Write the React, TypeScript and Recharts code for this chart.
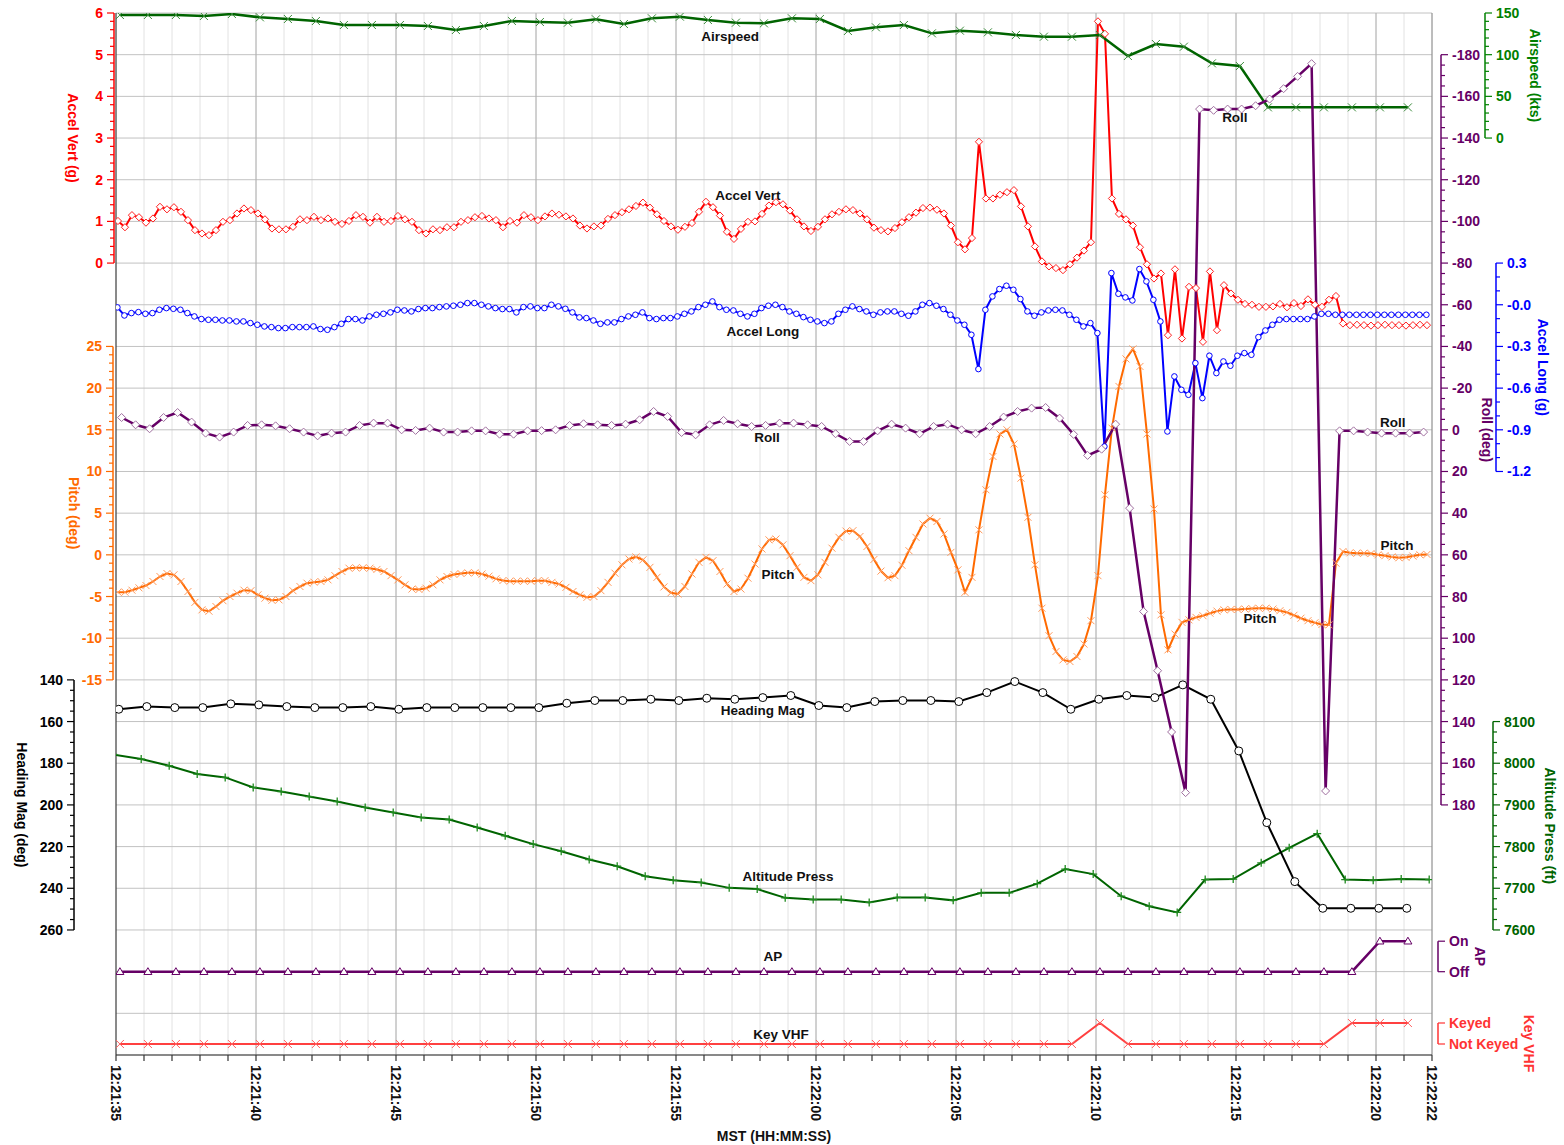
import React from 'react';
import {
  CartesianGrid,
  ComposedChart,
  Line,
  ReferenceDot,
  XAxis,
  YAxis,
} from 'recharts';

// ---- recorded values (seconds after 12:21:35) ----

// 1 Hz samples, first at t = 0.1
const HEADING_MAG = [
  154.1, 152.8, 153.3, 153.3, 151.5, 152.0, 152.8, 153.3, 153.3, 152.8,
  154.1, 153.3, 153.3, 153.3, 153.3, 153.3, 151.2, 149.9, 149.9, 149.3,
  149.9, 148.8, 149.3, 148.5, 147.5, 152.3, 153.3, 150.4, 149.9, 149.9,
  150.4, 146.1, 140.8, 146.1, 154.1, 149.3, 147.5, 148.5, 142.4, 149.3,
  174.1, 208.5, 236.8, 249.6, 249.6, 249.6, 249.6,
];

// 1 Hz samples, first at t = 0.14
const AIRSPEED = [
  147.6, 147.6, 147.6, 146.4, 148.8, 144.8, 142.8, 140.4, 135.6, 135.6,
  135.6, 134.4, 129.6, 134.4, 140.4, 139.2, 138.4, 142.4, 136.8, 143.6,
  145.6, 141.6, 138.4, 137.6, 143.6, 142.8, 128.4, 132.8, 135.6, 125.6,
  128.8, 126.8, 123.6, 121.6, 121.6, 123.6, 98.4, 112.8, 109.6, 89.6,
  86.4, 36.8, 36.8, 36.8, 36.8, 36.8, 36.8,
];

// 1 Hz discretes, first at t = 0.14 (0 = Off / Not Keyed, 1 = On / Keyed)
const AP_STATE = [
  0, 0, 0, 0, 0, 0, 0, 0, 0, 0, 0, 0, 0, 0, 0, 0, 0, 0, 0, 0,
  0, 0, 0, 0, 0, 0, 0, 0, 0, 0, 0, 0, 0, 0, 0, 0, 0, 0, 0, 0,
  0, 0, 0, 0, 0, 1, 1,
];
const KEY_VHF = [
  0, 0, 0, 0, 0, 0, 0, 0, 0, 0, 0, 0, 0, 0, 0, 0, 0, 0, 0, 0,
  0, 0, 0, 0, 0, 0, 0, 0, 0, 0, 0, 0, 0, 0, 0, 1, 0, 0, 0, 0,
  0, 0, 0, 0, 1, 1, 1,
];

// 1 Hz samples, first at t = -0.1
const ALTITUDE_PRESS = [
  8021, 8010, 7994, 7974, 7966, 7942, 7932, 7920, 7908, 7894,
  7882, 7870, 7865, 7846, 7826, 7806, 7789, 7769, 7753, 7729,
  7719, 7714, 7701, 7698, 7677, 7673, 7673, 7666, 7678, 7678,
  7671, 7689, 7689, 7711, 7746, 7734, 7681, 7657, 7642, 7721,
  7722, 7761, 7797, 7831, 7721, 7719, 7722, 7721,
];

// 2 Hz samples, first at t = 0.2
const ROLL = [
  -5.9, -2.4, -0.5, -5.9, -8.3, -3.7, 1.6, 3.5, 1.1, -2.1,
  -2.4, -1.9, -0.5, 1.1, 2.9, 1.6, 1.1, -2.1, -3.2, -3.2,
  0, 0.3, -0.8, 1.1, 1.1, 0.5, 0.5, 2.1, 2.1, 0.5,
  0.4, 0, -2.1, -2.9, -2.4, -2.1, -2.7, -4.8, -8.8, -6.4,
  1.3, 2.4, -2.4, -4.5, -2.9, -1.6, -2.1, -3.2, -3.2, -2.4,
  -1.6, 1.9, 5.6, 5.6, 0.5, -2.7, -0.8, 1.9, -1.6, -2.7,
  0, 1.9, -1.6, -6.1, -8.8, -10.4, -10.7, -5.6, 2.2, 12.3,
  9.3, -2.7, 37.6, 87.2, 115.6, 145, 174.1, -153.9, -153.3, -153.9,
  -153.9, -155.5, -158.7, -163.7, -169.6, -175.7, 173.3, 0.5, 0.5, 1.1,
  1.6, 1.6, 1.6, 1.1,
];

// 4 Hz samples, first at t = 0.07
const ACCEL_VERT = [
  1.01, 0.86, 1.15, 1.10, 0.97, 1.07, 1.35, 1.29, 1.34, 1.23,
  1.03, 0.79, 0.71, 0.67, 0.79, 0.99, 1.03, 1.19, 1.31, 1.27,
  1.19, 1.05, 0.83, 0.81, 0.81, 0.87, 1.05, 1.03, 1.11, 1.03,
  1.07, 0.99, 0.94, 1.01, 1.15, 1.11, 0.97, 1.11, 0.99, 1.01,
  1.13, 1.05, 0.99, 0.79, 0.71, 0.81, 0.79, 0.86, 0.86, 0.99,
  1.03, 1.10, 1.13, 1.07, 1.03, 0.86, 1.01, 0.97, 1.15, 1.10,
  1.03, 1.12, 1.19, 1.16, 1.12, 1.07, 0.90, 0.83, 0.88, 0.90,
  1.06, 1.15, 1.22, 1.29, 1.37, 1.45, 1.33, 1.17, 1.01, 0.88,
  0.80, 0.87, 0.96, 1.23, 1.47, 1.34, 1.14, 0.75, 0.58, 0.82,
  0.99, 1.00, 1.18, 1.38, 1.46, 1.41, 1.26, 1.05, 0.88, 0.77,
  0.87, 1.05, 1.17, 1.23, 1.29, 1.27, 1.19, 1.05, 0.85, 0.79,
  0.76, 0.84, 0.98, 1.10, 1.21, 1.32, 1.33, 1.28, 1.19, 0.90,
  0.50, 0.33, 0.60, 2.91, 1.55, 1.55, 1.64, 1.70, 1.75, 1.36,
  0.88, 0.40, 0.04, -0.08, -0.12, -0.17, -0.03, 0.13, 0.30, 0.50,
  5.80, 5.50, 1.55, 1.18, 1.05, 0.90, 0.38, -0.03, -0.37, -0.25,
  -1.73, -0.15, -1.81, -0.57, -0.60, -1.89, -0.20, -1.61, -0.53, -0.73,
  -0.88, -0.98, -1.00, -1.05, -1.05, -1.04, -0.98, -1.06, -0.96, -1.03,
  -0.87, -1.00, -1.05, -0.88, -0.79, -1.45, -1.49, -1.48, -1.49, -1.50,
  -1.49, -1.48, -1.49, -1.49, -1.50, -1.49, -1.48, -1.49,
];

// 4 Hz samples, first at t = 0.05
const ACCEL_LONG = [
  -0.019, -0.077, -0.06, -0.053, -0.065, -0.06, -0.036, -0.024, -0.029, -0.036,
  -0.06, -0.084, -0.103, -0.108, -0.108, -0.113, -0.113, -0.12, -0.12, -0.132,
  -0.144, -0.156, -0.161, -0.168, -0.168, -0.161, -0.161, -0.161, -0.156, -0.175,
  -0.18, -0.161, -0.137, -0.103, -0.103, -0.113, -0.084, -0.072, -0.065, -0.055,
  -0.036, -0.041, -0.048, -0.031, -0.024, -0.024, -0.017, -0.012, -0.007, 0,
  0.012, 0.012, 0, -0.012, -0.024, -0.031, -0.031, -0.055, -0.017, -0.012,
  -0.024, -0.024, 0, -0.012, -0.029, -0.055, -0.091, -0.096, -0.113, -0.137,
  -0.127, -0.127, -0.103, -0.084, -0.072, -0.055, -0.096, -0.103, -0.096, -0.096,
  -0.084, -0.065, -0.048, -0.017, 0, 0.024, -0.017, -0.036, -0.041, -0.065,
  -0.084, -0.065, -0.024, -0.007, 0, -0.017, -0.048, -0.065, -0.089, -0.108,
  -0.12, -0.132, -0.12, -0.065, -0.036, -0.012, -0.031, -0.048, -0.072, -0.055,
  -0.048, -0.048, -0.065, -0.079, -0.048, 0, 0.012, -0.007, -0.031, -0.072,
  -0.113, -0.144, -0.216, -0.463, -0.036, 0.06, 0.113, 0.137, 0.108, 0.041,
  -0.048, -0.079, -0.055, -0.041, -0.036, -0.041, -0.072, -0.108, -0.156, -0.132,
  -0.204, -1.02, 0.228, 0.079, 0.053, 0.031, 0.257, 0.168, 0.036, -0.12,
  -0.912, -0.516, -0.612, -0.648, -0.42, -0.672, -0.367, -0.492, -0.408, -0.439,
  -0.367, -0.348, -0.36, -0.233, -0.185, -0.144, -0.108, -0.103, -0.103, -0.103,
  -0.103, -0.084, -0.065, -0.065, -0.072, -0.072, -0.072, -0.072, -0.072, -0.072,
  -0.072, -0.072, -0.072, -0.072, -0.072, -0.072, -0.072, -0.072,
];

// 4 Hz samples, first at t = 0.07
const PITCH = [
  -4.48, -4.48, -4.24, -3.96, -3.68, -3.2, -2.6, -2.24, -2.4, -3.2,
  -4.4, -5.7, -6.6, -6.76, -6.2, -5.5, -5.0, -4.6, -4.24, -4.3,
  -4.8, -5.2, -5.45, -5.4, -5.0, -4.3, -3.8, -3.4, -3.28, -3.2,
  -3.0, -2.5, -2.0, -1.6, -1.56, -1.56, -1.6, -1.75, -2.0, -2.5,
  -3.0, -3.6, -4.1, -4.16, -4.0, -3.6, -3.0, -2.6, -2.36, -2.24,
  -2.16, -2.16, -2.3, -2.56, -2.88, -3.08, -3.16, -3.16, -3.16, -3.16,
  -3.1, -3.1, -3.3, -3.5, -3.9, -4.4, -4.8, -5.1, -5.0, -4.3,
  -3.3, -2.2, -1.2, -0.5, -0.25, -0.6, -1.5, -2.7, -3.85, -4.55,
  -4.7, -3.8, -2.3, -0.9, -0.3, -0.7, -2.0, -3.5, -4.4, -4.1,
  -2.8, -1.1, 0.7, 1.8, 1.9, 1.2, -0.1, -1.5, -2.7, -3.1,
  -2.4, -0.9, 0.8, 2.1, 2.85, 2.9, 2.2, 1.0, -0.55, -1.95,
  -2.75, -2.5, -1.25, 0.5, 2.1, 3.7, 4.4, 4.0, 2.5, 0.3,
  -1.8, -4.5, -2.7, 3.0, 7.8, 11.8, 14.5, 15.0, 13.3, 9.2,
  4.5, -1.2, -6.4, -9.7, -11.6, -12.6, -12.8, -12.2, -10.7, -7.9,
  -2.5, 7.2, 15.2, 20.2, 23.5, 24.7, 22.6, 14.5, 5.5, -7.2,
  -11.4, -9.5, -8.1, -7.8, -7.5, -7.3, -7.0, -6.75, -6.6, -6.55,
  -6.55, -6.5, -6.45, -6.4, -6.4, -6.5, -6.7, -6.9, -7.25, -7.6,
  -7.9, -8.15, -8.35, -8.4, -1.0, 0.4, 0.24, 0.2, 0.2, 0.15,
  0.0, -0.1, -0.25, -0.35, -0.3, -0.15, 0.0, 0.05,
];

// in-plot series captions: [text, axis, seconds, value]
const SERIES_TAGS: [string, string, number, number][] = [
  ['Airspeed', 'airspeed', 21.93, 122.4],
  ['Accel Vert', 'av', 22.57, 1.63],
  ['Roll', 'roll', 39.96, -149.8],
  ['Accel Long', 'al', 23.1, -0.187],
  ['Roll', 'roll', 23.25, 3.4],
  ['Roll', 'roll', 45.6, -3.8],
  ['Pitch', 'pitch', 23.64, -2.36],
  ['Pitch', 'pitch', 40.86, -7.64],
  ['Pitch', 'pitch', 45.75, 1.12],
  ['Heading Mag', 'heading', 23.1, 154.4],
  ['Altitude Press', 'alt', 24.0, 7730],
  ['AP', 'ap', 23.46, 0.51],
  ['Key VHF', 'key', 23.75, 0.48],
];

const START_SEC = 12 * 3600 + 21 * 60 + 35;
const END_T = 47;

// ---- layout (chart pinned to the page corner, covering the whole window) ----
const W = 1564;
const H = 1145;
const MARGIN = { top: 13, right: 126, bottom: 0, left: 113 };
const X_AXIS_H = 90;
const PLOT_H = H - MARGIN.top - MARGIN.bottom - X_AXIS_H;
const FONT = '"Liberation Sans", Arial, sans-serif';

const range = (from: number, to: number, step: number) => {
  const n = Math.round((to - from) / step);
  return Array.from({ length: n + 1 }, (_, i) => +(from + i * step).toFixed(6));
};

const toPoints = (values: number[], start: number, step: number) =>
  values.map((v, i) => ({ t: +(start + i * step).toFixed(3), v }));

const fmtClock = (s: number) => {
  const total = START_SEC + s;
  const hh = Math.floor(total / 3600);
  const mm = Math.floor((total % 3600) / 60);
  const ss = total % 60;
  const p = (n: number) => String(n).padStart(2, '0');
  return `${hh}:${p(mm)}:${p(ss)}`;
};

type AxisSpec = {
  id: string;
  side: 'left' | 'right';
  dx: number;
  domain: [number, number];
  reversed?: boolean;
  ticks: number[];
  major: number;
  color: string;
  title: string;
  titleDx: number;
  titleDy?: number;
  fmt?: (v: number) => string;
};

const AXES: AxisSpec[] = [
  { id: 'av', side: 'left', dx: -2, domain: [-19, 6], ticks: range(0, 6, 0.2), major: 1,
    color: '#ff0000', title: 'Accel Vert (g)', titleDx: -41 },
  { id: 'pitch', side: 'left', dx: -1, domain: [-60, 65], ticks: range(-15, 25, 1), major: 5,
    color: '#ff6a00', title: 'Pitch (deg)', titleDx: -39 },
  { id: 'heading', side: 'left', dx: -41, domain: [-180, 320], reversed: true,
    ticks: range(140, 260, 5), major: 20, color: '#000000', title: 'Heading Mag (deg)', titleDx: -52 },
  { id: 'roll', side: 'right', dx: 4, domain: [-200, 300], reversed: true,
    ticks: range(-180, 180, 5), major: 20, color: '#660066', title: 'Roll (deg)', titleDx: 46 },
  { id: 'ap', side: 'right', dx: 3, domain: [-2.731, 31.43], ticks: [0, 1], major: 1,
    color: '#660066', title: 'AP', titleDx: 42, fmt: (v) => (v ? 'On' : 'Off') },
  { id: 'key', side: 'right', dx: 2, domain: [-0.524, 49.1], ticks: [0, 1], major: 1,
    color: '#ff3333', title: 'Key VHF', titleDx: 91, titleDy: 10,
    fmt: (v) => (v ? 'Keyed' : 'Not Keyed') },
  { id: 'airspeed', side: 'right', dx: 53, domain: [-1100, 150], ticks: range(0, 150, 10), major: 50,
    color: '#008000', title: 'Airspeed (kts)', titleDx: 50 },
  { id: 'alt', side: 'right', dx: 59, domain: [7300, 9800], ticks: range(7600, 8100, 25), major: 100,
    color: '#006400', title: 'Altitude Press (ft)', titleDx: 57 },
  { id: 'al', side: 'right', dx: 63, domain: [-5.4, 2.1], ticks: range(-1.2, 0.3, 0.1), major: 0.3,
    color: '#0000ff', title: 'Accel Long (g)', titleDx: 47,
    fmt: (v) => (Math.abs(v) < 1e-9 ? '-0.0' : v.toFixed(1)) },
];

const isMajor = (v: number, major: number) => Math.abs(v / major - Math.round(v / major)) < 1e-6;

const textStyle = (fill: string, size = 14) => ({
  fill,
  fontFamily: FONT,
  fontWeight: 700,
  fontSize: size,
});

function makeYTick(spec: AxisSpec) {
  const ppu = PLOT_H / (spec.domain[1] - spec.domain[0]);
  const first = spec.ticks[0];
  const last = spec.ticks[spec.ticks.length - 1];
  const dir = spec.side === 'left' ? -1 : 1;
  return (props: any) => {
    const { x, y, payload } = props;
    const v = payload.value as number;
    const ax = x + spec.dx;
    const major = isMajor(v, spec.major);
    const len = major ? 7 : 4;
    let axisPart = null;
    if (Math.abs(v - first) < 1e-9) {
      const span = (last - first) * ppu;
      const yEnd = spec.reversed ? y + span : y - span;
      const ty = (y + yEnd) / 2 + (spec.titleDy ?? 0);
      const tx = ax + spec.titleDx;
      axisPart = (
        <g>
          <line x1={ax} x2={ax} y1={y} y2={yEnd} stroke={spec.color} strokeWidth={1.5} />
          <text
            x={tx}
            y={ty}
            transform={`rotate(90 ${tx} ${ty})`}
            textAnchor="middle"
            dominantBaseline="central"
            style={textStyle(spec.color)}
          >
            {spec.title}
          </text>
        </g>
      );
    }
    return (
      <g>
        {axisPart}
        <line x1={ax} x2={ax + dir * len} y1={y} y2={y} stroke={spec.color} strokeWidth={1.2} />
        {major && (
          <text
            x={ax + dir * 11}
            y={y}
            textAnchor={spec.side === 'left' ? 'end' : 'start'}
            dominantBaseline="central"
            style={textStyle(spec.color)}
          >
            {spec.fmt ? spec.fmt(v) : String(v)}
          </text>
        )}
      </g>
    );
  };
}

const XTick = (props: any) => {
  const { x, y, payload } = props;
  const s = payload.value as number;
  const labeled = s % 5 === 0 || s === END_T;
  const ty = y + 10;
  return (
    <g>
      <line x1={x} x2={x} y1={y} y2={y + 6} stroke="#333" strokeWidth={1.2} />
      {labeled && (
        <text
          x={x}
          y={ty}
          transform={`rotate(90 ${x} ${ty})`}
          textAnchor="start"
          dominantBaseline="central"
          style={textStyle('#111')}
        >
          {fmtClock(s)}
        </text>
      )}
    </g>
  );
};

type MarkKind = 'diamond' | 'circle' | 'cross' | 'plus' | 'triangle';

const marker = (kind: MarkKind, s: number, stroke: string) => (p: any) => {
  const { cx, cy, index } = p;
  const k = `m${index}`;
  if (!Number.isFinite(cx) || !Number.isFinite(cy)) return <g key={k} />;
  switch (kind) {
    case 'diamond':
      return (
        <path key={k} d={`M${cx},${cy - s}L${cx + s},${cy}L${cx},${cy + s}L${cx - s},${cy}Z`}
          fill="#fff" stroke={stroke} strokeWidth={1} />
      );
    case 'circle':
      return <circle key={k} cx={cx} cy={cy} r={s} fill="#fff" stroke={stroke} strokeWidth={1} />;
    case 'cross':
      return (
        <path key={k} d={`M${cx - s},${cy - s}L${cx + s},${cy + s}M${cx - s},${cy + s}L${cx + s},${cy - s}`}
          fill="none" stroke={stroke} strokeWidth={1} />
      );
    case 'plus':
      return (
        <path key={k} d={`M${cx - s},${cy}L${cx + s},${cy}M${cx},${cy - s}L${cx},${cy + s}`}
          fill="none" stroke={stroke} strokeWidth={1.3} />
      );
    default:
      return (
        <path key={k} d={`M${cx},${cy - s}L${cx + s},${cy + s * 0.7}L${cx - s},${cy + s * 0.7}Z`}
          fill="#fff" stroke={stroke} strokeWidth={1} />
      );
  }
};

const SECOND_TICKS = range(0, END_T, 1);
const FIVE_SEC_LINES = range(5, 45, 5);
const GRID_ROWS = range(0, 25, 1);

export default function App() {
  const headingData = toPoints(HEADING_MAG, 0.1, 1);
  const airspeedData = toPoints(AIRSPEED, 0.14, 1);
  const apData = toPoints(AP_STATE, 0.14, 1);
  const keyData = toPoints(KEY_VHF, 0.14, 1);
  const altData = toPoints(ALTITUDE_PRESS, -0.1, 1);
  const rollData = toPoints(ROLL, 0.2, 0.5);
  const avData = toPoints(ACCEL_VERT, 0.07, 0.25);
  const alData = toPoints(ACCEL_LONG, 0.05, 0.25);
  const pitchData = toPoints(PITCH, 0.07, 0.25);

  return (
    <div style={{ position: 'absolute', left: 0, top: 0, width: W, height: H, background: '#fff' }}>
      <ComposedChart width={W} height={H} margin={MARGIN}>
        <CartesianGrid yAxisId="grid" horizontal={false} verticalValues={SECOND_TICKS} stroke="#e2e2e2" />
        <CartesianGrid yAxisId="grid" vertical={false} horizontalValues={GRID_ROWS} stroke="#c2c2c2" />
        <CartesianGrid yAxisId="grid" horizontal={false} verticalValues={FIVE_SEC_LINES} stroke="#b0b0b0" />
        <CartesianGrid yAxisId="grid" horizontal={false} verticalValues={[END_T]} stroke="#888" />
        <CartesianGrid yAxisId="grid" horizontal={false} verticalValues={[0]} stroke="#222" />

        <XAxis
          dataKey="t"
          type="number"
          domain={[0, END_T]}
          allowDataOverflow
          ticks={SECOND_TICKS}
          interval={0}
          height={X_AXIS_H}
          tickSize={0}
          tickMargin={0}
          tickLine={false}
          axisLine={{ stroke: '#333', strokeWidth: 1.2 }}
          tick={XTick}
          label={{
            value: 'MST (HH:MM:SS)',
            position: 'insideBottom',
            offset: 4,
            ...textStyle('#111'),
          }}
        />

        {AXES.map((a) => (
          <YAxis
            key={a.id}
            yAxisId={a.id}
            orientation={a.side}
            type="number"
            width={1}
            domain={a.domain}
            reversed={a.reversed}
            allowDataOverflow
            ticks={a.ticks}
            interval={0}
            tickSize={0}
            tickMargin={0}
            tickLine={false}
            axisLine={false}
            tick={makeYTick(a)}
          />
        ))}
        <YAxis yAxisId="grid" hide width={0} domain={[0, 25]} ticks={GRID_ROWS} allowDataOverflow />

        <Line data={keyData} dataKey="v" yAxisId="key" type="linear" stroke="#ff4040" strokeWidth={2}
          dot={marker('cross', 4, '#ff6060')} activeDot={false} isAnimationActive={false} />
        <Line data={apData} dataKey="v" yAxisId="ap" type="linear" stroke="#660066" strokeWidth={2.5}
          dot={marker('triangle', 4, '#660066')} activeDot={false} isAnimationActive={false} />
        <Line data={altData} dataKey="v" yAxisId="alt" type="linear" stroke="#006400" strokeWidth={2}
          dot={marker('plus', 4, '#1f8a1f')} activeDot={false} isAnimationActive={false} />
        <Line data={headingData} dataKey="v" yAxisId="heading" type="linear" stroke="#000" strokeWidth={2}
          dot={marker('circle', 4, '#000')} activeDot={false} isAnimationActive={false} />
        <Line data={pitchData} dataKey="v" yAxisId="pitch" type="linear" stroke="#ff6a00" strokeWidth={2}
          dot={marker('cross', 3.5, '#ff9a5c')} activeDot={false} isAnimationActive={false} />
        <Line data={alData} dataKey="v" yAxisId="al" type="linear" stroke="#0000ff" strokeWidth={2}
          dot={marker('circle', 2.8, '#0000ff')} activeDot={false} isAnimationActive={false} />
        <Line data={avData} dataKey="v" yAxisId="av" type="linear" stroke="#ff0000" strokeWidth={2}
          dot={marker('diamond', 3.6, '#ff2020')} activeDot={false} isAnimationActive={false} />
        <Line data={airspeedData} dataKey="v" yAxisId="airspeed" type="linear" stroke="#006400" strokeWidth={2.5}
          dot={marker('cross', 4, '#3c8c3c')} activeDot={false} isAnimationActive={false} />
        <Line data={rollData} dataKey="v" yAxisId="roll" type="linear" stroke="#660066" strokeWidth={2.5}
          dot={marker('diamond', 4, '#a070a0')} activeDot={false} isAnimationActive={false} />

        {SERIES_TAGS.map(([text, axis, t, v], i) => (
          <ReferenceDot
            key={`${text}-${i}`}
            x={t}
            y={v}
            yAxisId={axis}
            r={0}
            fill="none"
            stroke="none"
            ifOverflow="visible"
            label={{ value: text, position: 'center', ...textStyle('#111', 13.5) }}
          />
        ))}
      </ComposedChart>
    </div>
  );
}
